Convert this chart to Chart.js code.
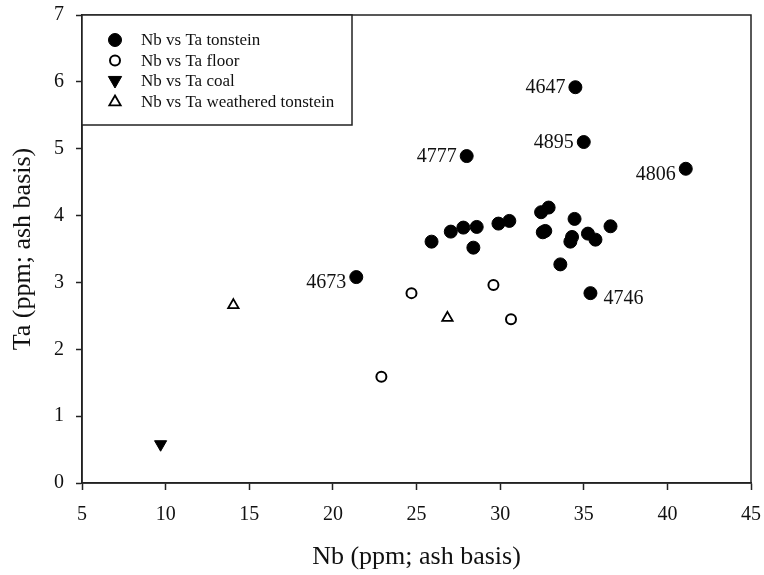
<!DOCTYPE html>
<html lang="en">
<head>
    <meta charset="UTF-8">
    <title>Nb vs Ta</title>
    <script src="https://cdn.jsdelivr.net/npm/chart.js"></script>
    <style>
        html, body { margin: 0; padding: 0; background: #fff; }
        canvas { display: block; }
    </style>
</head>
<body>
    <canvas id="grafico" width="764" height="575"></canvas>

    <script>
        // dados
        var tonsteinNb = [34.5, 35.0, 28.0, 41.1, 21.4, 35.4, 25.9, 27.05, 27.8, 28.6, 28.4, 29.9, 30.55, 32.45, 32.9, 32.7, 32.55, 34.45, 34.3, 34.2, 35.25, 35.7, 36.6, 33.6];
        var tonsteinTa = [5.92, 5.10, 4.89, 4.70, 3.08, 2.84, 3.61, 3.76, 3.82, 3.83, 3.52, 3.88, 3.92, 4.05, 4.12, 3.77, 3.75, 3.95, 3.68, 3.61, 3.73, 3.64, 3.84, 3.27];
        var tonsteinLabels = ['4647', '4895', '4777', '4806', '4673', '4746'];

        var floorNb = [24.7, 29.6, 30.65, 22.9];
        var floorTa = [2.84, 2.96, 2.45, 1.59];

        var coalNb = [9.7];
        var coalTa = [0.58];

        var weatheredNb = [14.05, 26.85];
        var weatheredTa = [2.66, 2.47];

        var xTicks = [5, 10, 15, 20, 25, 30, 35, 40, 45];
        var yTicks = [0, 1, 2, 3, 4, 5, 6, 7];

        var serif = "'Liberation Serif', 'Times New Roman', serif";

        function toPoints(xs, ys) {
            return xs.map(function (x, i) { return { x: x, y: ys[i] }; });
        }

        // moldura da area do grafico
        var moldura = {
            id: 'moldura',
            afterDraw: function (chart) {
                var a = chart.chartArea, ctx = chart.ctx;
                ctx.save();
                ctx.strokeStyle = '#222';
                ctx.lineWidth = 1.5;
                ctx.strokeRect(a.left, a.top, a.right - a.left, a.bottom - a.top);
                ctx.restore();
            }
        };

        // rotulos das amostras
        var lado = { '4647': 'left', '4895': 'left', '4777': 'left', '4806': 'leftDown', '4673': 'leftDown', '4746': 'rightDown' };
        var rotulos = {
            id: 'rotulos',
            afterDatasetsDraw: function (chart) {
                var meta = chart.getDatasetMeta(0), ctx = chart.ctx;
                ctx.save();
                ctx.font = '20px ' + serif;
                ctx.fillStyle = '#111';
                ctx.textBaseline = 'middle';
                tonsteinLabels.forEach(function (txt, i) {
                    var p = meta.data[i];
                    var s = lado[txt];
                    var dy = s.indexOf('Down') > 0 ? 5 : 0;
                    if (s.indexOf('right') === 0) {
                        ctx.textAlign = 'left';
                        ctx.fillText(txt, p.x + 13, p.y + dy + 1);
                    } else {
                        ctx.textAlign = 'right';
                        ctx.fillText(txt, p.x - 10, p.y + dy + 1);
                    }
                });
                ctx.restore();
            }
        };

        // legenda em caixa
        var legenda = {
            id: 'legenda',
            afterDraw: function (chart) {
                var a = chart.chartArea, ctx = chart.ctx;
                ctx.save();
                ctx.fillStyle = '#fff';
                ctx.fillRect(a.left, a.top, 270, 110);
                ctx.strokeStyle = '#222';
                ctx.lineWidth = 1.5;
                ctx.strokeRect(a.left, a.top, 270, 110);
                ctx.font = '17px ' + serif;
                ctx.textBaseline = 'middle';
                ctx.textAlign = 'left';
                chart.data.datasets.forEach(function (ds, i) {
                    var y = a.top + 25 + i * 20.5;
                    var x = a.left + 33;
                    ctx.fillStyle = ds.backgroundColor;
                    ctx.strokeStyle = ds.borderColor;
                    ctx.lineWidth = ds.borderWidth;
                    ctx.beginPath();
                    if (ds.pointStyle === 'circle') {
                        ctx.arc(x, y, ds.pointRadius, 0, Math.PI * 2);
                    } else {
                        var r = ds.pointRadius;
                        var dir = ds.rotation ? -1 : 1;
                        ctx.moveTo(x, y - dir * r);
                        ctx.lineTo(x + r * 0.95, y + dir * r * 0.65);
                        ctx.lineTo(x - r * 0.95, y + dir * r * 0.65);
                        ctx.closePath();
                    }
                    ctx.fill();
                    ctx.stroke();
                    ctx.fillStyle = '#111';
                    ctx.fillText(ds.label, a.left + 59, y + 1);
                });
                ctx.restore();
            }
        };

        var ctx = document.getElementById('grafico').getContext('2d');
        var grafico = new Chart(ctx, {
            type: 'scatter',
            data: {
                datasets: [{
                    label: 'Nb vs Ta tonstein',
                    data: toPoints(tonsteinNb, tonsteinTa),
                    pointStyle: 'circle',
                    pointRadius: 6.5,
                    backgroundColor: '#000',
                    borderColor: '#000',
                    borderWidth: 1
                }, {
                    label: 'Nb vs Ta floor',
                    data: toPoints(floorNb, floorTa),
                    pointStyle: 'circle',
                    pointRadius: 5,
                    backgroundColor: '#fff',
                    borderColor: '#000',
                    borderWidth: 2
                }, {
                    label: 'Nb vs Ta coal',
                    data: toPoints(coalNb, coalTa),
                    pointStyle: 'triangle',
                    rotation: 180,
                    pointRadius: 7,
                    backgroundColor: '#000',
                    borderColor: '#000',
                    borderWidth: 1
                }, {
                    label: 'Nb vs Ta weathered tonstein',
                    data: toPoints(weatheredNb, weatheredTa),
                    pointStyle: 'triangle',
                    pointRadius: 6,
                    backgroundColor: '#fff',
                    borderColor: '#000',
                    borderWidth: 1.8
                }]
            },
            options: {
                responsive: false,
                animation: false,
                layout: { padding: { top: 15, right: 13, left: 0, bottom: 0 } },
                scales: {
                    x: {
                        type: 'linear',
                        min: 5,
                        max: 45,
                        afterFit: function (s) { s.height = 92; s.paddingLeft = 0; s.paddingRight = 0; },
                        afterBuildTicks: function (s) { s.ticks = xTicks.map(function (v) { return { value: v }; }); },
                        border: { display: true, color: '#222', width: 1.5 },
                        grid: { drawOnChartArea: false, tickLength: 7, tickColor: '#222', tickWidth: 1.5 },
                        ticks: { color: '#111', font: { family: serif, size: 20 }, padding: 13, maxRotation: 0 },
                        title: { display: true, text: 'Nb (ppm; ash basis)', color: '#111', font: { family: serif, size: 26 }, padding: { top: 0, bottom: 2 } }
                    },
                    y: {
                        type: 'linear',
                        min: 0,
                        max: 7,
                        afterFit: function (s) { s.width = 82; s.paddingTop = 0; s.paddingBottom = 0; },
                        afterBuildTicks: function (s) { s.ticks = yTicks.map(function (v) { return { value: v }; }); },
                        border: { display: true, color: '#222', width: 1.5 },
                        grid: { drawOnChartArea: false, tickLength: 6, tickColor: '#222', tickWidth: 1.5 },
                        ticks: { color: '#111', font: { family: serif, size: 20 }, padding: 12 },
                        title: { display: true, text: 'Ta (ppm; ash basis)', color: '#111', font: { family: serif, size: 26 }, padding: { top: 8, bottom: 0 } }
                    }
                },
                plugins: {
                    legend: { display: false },
                    tooltip: { enabled: false }
                }
            },
            plugins: [moldura, rotulos, legenda]
        });
    </script>
</body>
</html>
